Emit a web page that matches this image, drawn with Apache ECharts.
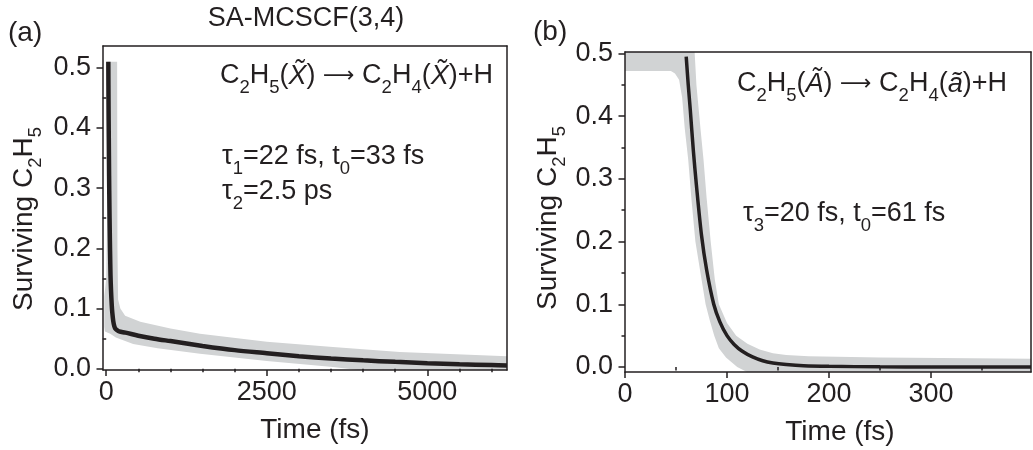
<!DOCTYPE html>
<html>
<head>
<meta charset="utf-8">
<script src="https://cdn.jsdelivr.net/npm/echarts@6.0.0/dist/echarts.min.js"></script>
<style>
  html, body { margin: 0; padding: 0; background: #fff; }
  #chart { width: 1033px; height: 450px; }
</style>
</head>
<body>
<div id="chart"></div>
<script>
  const FONT = '"Liberation Sans", Arial, Helvetica, sans-serif';
  const INK = '#231f20';
  const BAND = '#d1d3d4';

  // panel (a): ground state, fit curve
  const aTime = [33, 36, 40, 45, 50, 55, 60, 67, 75, 85, 95, 110, 125, 140, 170, 200, 300, 500, 750, 1000, 1500, 2000, 2500, 3000, 3500, 4000, 4500, 5000, 5500, 6000, 6240];
  const aSurv = [0.51, 0.44, 0.385, 0.32, 0.27, 0.23, 0.195, 0.155, 0.13, 0.108, 0.093, 0.079, 0.071, 0.067, 0.064, 0.062, 0.060, 0.055, 0.050, 0.046, 0.038, 0.031, 0.026, 0.021, 0.017, 0.014, 0.0115, 0.0093, 0.0075, 0.0062, 0.0056];
  // spread of the trajectories (grey band), upper edge then lower edge
  const aBandUpper = [[20, 0.51], [170, 0.51], [175, 0.2], [185, 0.115], [220, 0.1], [295, 0.088], [530, 0.078], [1000, 0.067], [1460, 0.058], [2500, 0.045], [3530, 0.036], [4570, 0.028], [6240, 0.021]];
  const aBandLower = [[6240, -0.003], [4000, -0.003], [3530, 0.003], [2500, 0.013], [1460, 0.025], [800, 0.034], [420, 0.041], [150, 0.052], [62, 0.058], [-20, 0.062], [-30, 0.07], [-30, 0.12], [0, 0.15], [20, 0.3]];
  const aXLabels = [0, 2500, 5000];
  const aXMinor = [500, 1000, 1500, 2000, 3000, 3500, 4000, 4500, 5500, 6000];

  // panel (b): excited state
  const bTime = [60, 62, 64, 67, 70, 75, 80, 87, 93, 100, 107, 115, 125, 135, 145, 158, 175, 200, 250, 300, 398];
  const bSurv = [0.495, 0.45, 0.41, 0.345, 0.29, 0.21, 0.155, 0.1, 0.072, 0.05, 0.036, 0.025, 0.016, 0.01, 0.0065, 0.004, 0.002, 0.001, 0.0003, 0.0001, 0];
  const bBandUpper = [[0, 0.51], [68, 0.51], [70, 0.45], [74, 0.38], [77, 0.33], [80, 0.27], [84, 0.2], [88, 0.14], [92, 0.1], [100, 0.07], [109, 0.05], [120, 0.037], [132, 0.028], [145, 0.022], [158, 0.019], [180, 0.017], [250, 0.015], [400, 0.013]];
  const bBandLower = [[400, -0.01], [122, -0.01], [110, 0.0], [99, 0.015], [92, 0.03], [87.5, 0.05], [83, 0.075], [79, 0.1], [74, 0.15], [69, 0.2], [65, 0.27], [62, 0.33], [58.6, 0.38], [56, 0.43], [53, 0.458], [49, 0.468], [45, 0.472], [0, 0.472]];
  const bXLabels = [0, 100, 200, 300];
  const bXMinor = [50, 150, 250, 350];

  const yLabels = [0, 0.1, 0.2, 0.3, 0.4, 0.5];
  const yMinor = [0.05, 0.15, 0.25, 0.35, 0.45];

  const chart = echarts.init(document.getElementById('chart'));

  const line = { color: INK, width: 1.5 };
  const tickFont = { color: INK, fontSize: 27, fontFamily: FONT };

  function xAxes(grid, min, max, labels, minor) {
    return [
      { gridIndex: grid, type: 'value', min: min, max: max, position: 'bottom', z: 10,
        axisLine: { show: true, onZero: false, lineStyle: line },
        axisTick: { show: true, customValues: labels, length: 6, lineStyle: line },
        axisLabel: Object.assign({ customValues: labels, margin: 9, formatter: v => String(v) }, tickFont),
        splitLine: { show: false } },
      { gridIndex: grid, type: 'value', min: min, max: max, position: 'bottom', z: 10,
        axisLine: { show: false },
        axisTick: { show: true, customValues: minor, length: 3.5, lineStyle: line },
        axisLabel: { show: false, customValues: minor },
        splitLine: { show: false } },
      { gridIndex: grid, type: 'value', min: min, max: max, position: 'top', z: 10,
        axisLine: { show: true, onZero: false, lineStyle: line },
        axisTick: { show: false }, axisLabel: { show: false }, splitLine: { show: false } }
    ];
  }
  function yAxes(grid, min, max) {
    return [
      { gridIndex: grid, type: 'value', min: min, max: max, position: 'left', z: 10,
        axisLine: { show: true, onZero: false, lineStyle: line },
        axisTick: { show: true, customValues: yLabels, length: 6.5, lineStyle: line },
        axisLabel: Object.assign({ customValues: yLabels, margin: 12, formatter: v => v.toFixed(1) }, tickFont),
        splitLine: { show: false } },
      { gridIndex: grid, type: 'value', min: min, max: max, position: 'left', z: 10,
        axisLine: { show: false },
        axisTick: { show: true, customValues: yMinor, length: 3.5, lineStyle: line },
        axisLabel: { show: false, customValues: yMinor },
        splitLine: { show: false } },
      { gridIndex: grid, type: 'value', min: min, max: max, position: 'right', z: 10,
        axisLine: { show: true, onZero: false, lineStyle: line },
        axisTick: { show: false }, axisLabel: { show: false }, splitLine: { show: false } }
    ];
  }

  function band(axisIdx, upper, lower) {
    const poly = upper.concat(lower);
    return {
      type: 'custom', xAxisIndex: axisIdx, yAxisIndex: axisIdx, clip: true, silent: true,
      data: poly,
      renderItem: function (params, api) {
        if (params.dataIndex !== 0) return null;
        return { type: 'polygon', shape: { points: poly.map(p => api.coord(p)) }, style: { fill: BAND } };
      }
    };
  }
  function fit(axisIdx, t, s, w) {
    return {
      type: 'line', xAxisIndex: axisIdx, yAxisIndex: axisIdx, showSymbol: false, silent: true,
      smooth: 0.3, data: t.map((v, i) => [v, s[i]]),
      lineStyle: { color: INK, width: w }
    };
  }

  const sub = { fontSize: 18.5, fontFamily: FONT, fill: INK, padding: [24, 0, 0, 0] };
  const ital = { fontSize: 27, fontFamily: FONT, fontStyle: 'italic', fill: INK };
  const arrow = { fontSize: 22, fontFamily: '"DejaVu Sans"', fill: INK };
  function txt(x, y, text, size, align, rot) {
    return {
      type: 'text', x: x, y: y, z: 20, rotation: rot || 0,
      style: { text: text, fill: INK, fontSize: size, fontFamily: FONT,
               align: align || 'left', verticalAlign: 'middle',
               rich: { s: sub, i: ital, a: arrow } }
    };
  }

  chart.setOption({
    animation: false,
    grid: [
      { left: 103, top: 46, width: 404, height: 324 },
      { left: 625, top: 52, width: 406, height: 320 }
    ],
    xAxis: xAxes(0, -50, 6240, aXLabels, aXMinor).concat(xAxes(1, 0, 398, bXLabels, bXMinor)),
    yAxis: yAxes(0, -0.002, 0.536).concat(yAxes(1, -0.008, 0.5024)),
    series: [
      band(0, aBandUpper, aBandLower),
      fit(0, aTime, aSurv, 4.5),
      band(3, bBandUpper, bBandLower),
      fit(3, bTime, bSurv, 3.5)
    ],
    graphic: [
      txt(306, 19, 'SA-MCSCF(3,4)', 27, 'center'),
      txt(8, 33, '(a)', 28),
      txt(533, 32, '(b)', 28),
      txt(220, 76, 'C{s|2}H{s|5}({i|X\u0303}) {a|\u27f6} C{s|2}H{s|4}({i|X\u0303})+H', 27),
      txt(222, 157, '\u03c4{s|1}=22 fs, t{s|0}=33 fs', 27),
      txt(222, 192, '\u03c4{s|2}=2.5 ps', 27),
      txt(737, 84, 'C{s|2}H{s|5}({i|\u00c3}) {a|\u27f6} C{s|2}H{s|4}({i|\u00e3})+H', 27),
      txt(743, 214, '\u03c4{s|3}=20 fs, t{s|0}=61 fs', 27),
      txt(315, 430, 'Time (fs)', 28, 'center'),
      txt(840, 432, 'Time (fs)', 28, 'center'),
      txt(24, 219, 'Surviving C{s|2}H{s|5}', 28, 'center', Math.PI / 2),
      txt(548, 218, 'Surviving C{s|2}H{s|5}', 28, 'center', Math.PI / 2)
    ]
  });
</script>
</body>
</html>
